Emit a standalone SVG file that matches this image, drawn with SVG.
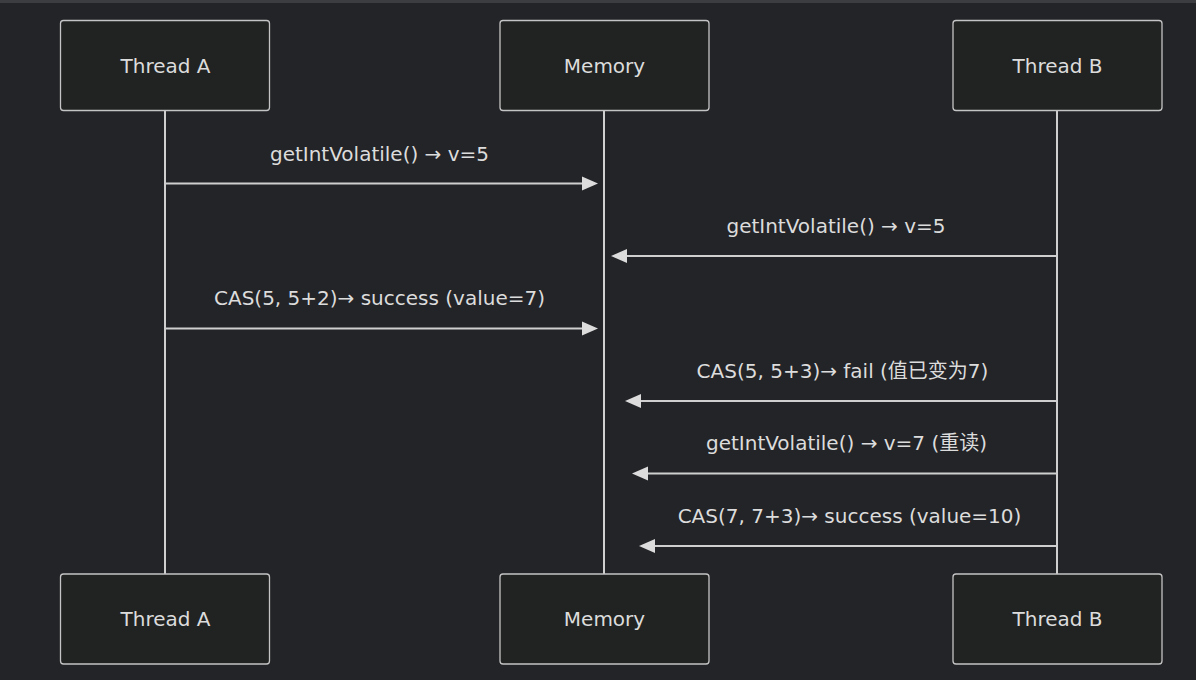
<svg xmlns="http://www.w3.org/2000/svg" width="1196" height="680" viewBox="0 0 1196 680">
<style>
.bg{fill:#232428}
.box{fill:#212322;stroke:#c4c4c4;stroke-width:1.3}
.t{font-family:"DejaVu Sans","Noto Sans CJK SC",sans-serif;font-size:20px;fill:#dcdcdc;text-anchor:middle}
.life{stroke:#cfcfcf;stroke-width:2;fill:none}
.msg{stroke:#cfcfcf;stroke-width:2;fill:none}
.ah{fill:#dcdcdc}
</style>
<rect class="bg" x="0" y="0" width="1196" height="680"/>
<rect x="0" y="0" width="1196" height="3" fill="#3c3d41"/>
<g id="lifelines">
<line class="life" x1="165" y1="110" x2="165" y2="574"/>
<line class="life" x1="604" y1="110" x2="604" y2="574"/>
<line class="life" x1="1057" y1="110" x2="1057" y2="574"/>
</g>
<g id="threadA-top"><rect class="box" x="60.5" y="20.5" width="209" height="90" rx="3"/><text class="t" x="165.5" y="72.5">Thread A</text></g>
<g id="memory-top"><rect class="box" x="500" y="20.5" width="209" height="90" rx="3"/><text class="t" x="604.5" y="72.5">Memory</text></g>
<g id="threadB-top"><rect class="box" x="953" y="20.5" width="209" height="90" rx="3"/><text class="t" x="1057.5" y="72.5">Thread B</text></g>
<g id="threadA-bottom"><rect class="box" x="60.5" y="574" width="209" height="90" rx="3"/><text class="t" x="165.5" y="626">Thread A</text></g>
<g id="memory-bottom"><rect class="box" x="500" y="574" width="209" height="90" rx="3"/><text class="t" x="604.5" y="626">Memory</text></g>
<g id="threadB-bottom"><rect class="box" x="953" y="574" width="209" height="90" rx="3"/><text class="t" x="1057.5" y="626">Thread B</text></g>
<g id="connectors">
<line class="msg" x1="165" y1="183.5" x2="584" y2="183.5"/>
<path class="ah" d="M598,183.5 L582,176.5 L582,190.5 Z"/>
<text class="t" x="379.5" y="161">getIntVolatile() → v=5</text>
<line class="msg" x1="1057" y1="256" x2="625" y2="256"/>
<path class="ah" d="M611,256 L627,249 L627,263 Z"/>
<text class="t" x="836" y="233">getIntVolatile() → v=5</text>
<line class="msg" x1="165" y1="328.5" x2="584" y2="328.5"/>
<path class="ah" d="M598,328.5 L582,321.5 L582,335.5 Z"/>
<text class="t" x="379.5" y="305">CAS(5, 5+2)→ success (value=7)</text>
<line class="msg" x1="1057" y1="401" x2="639" y2="401"/>
<path class="ah" d="M625,401 L641,394 L641,408 Z"/>
<text class="t" x="842.5" y="378">CAS(5, 5+3)→ fail (值已变为7)</text>
<line class="msg" x1="1057" y1="473.5" x2="646" y2="473.5"/>
<path class="ah" d="M632,473.5 L648,466.5 L648,480.5 Z"/>
<text class="t" x="846.5" y="450">getIntVolatile() → v=7 (重读)</text>
<line class="msg" x1="1057" y1="546" x2="653" y2="546"/>
<path class="ah" d="M639,546 L655,539 L655,553 Z"/>
<text class="t" x="849.5" y="523">CAS(7, 7+3)→ success (value=10)</text>
</g>
</svg>
